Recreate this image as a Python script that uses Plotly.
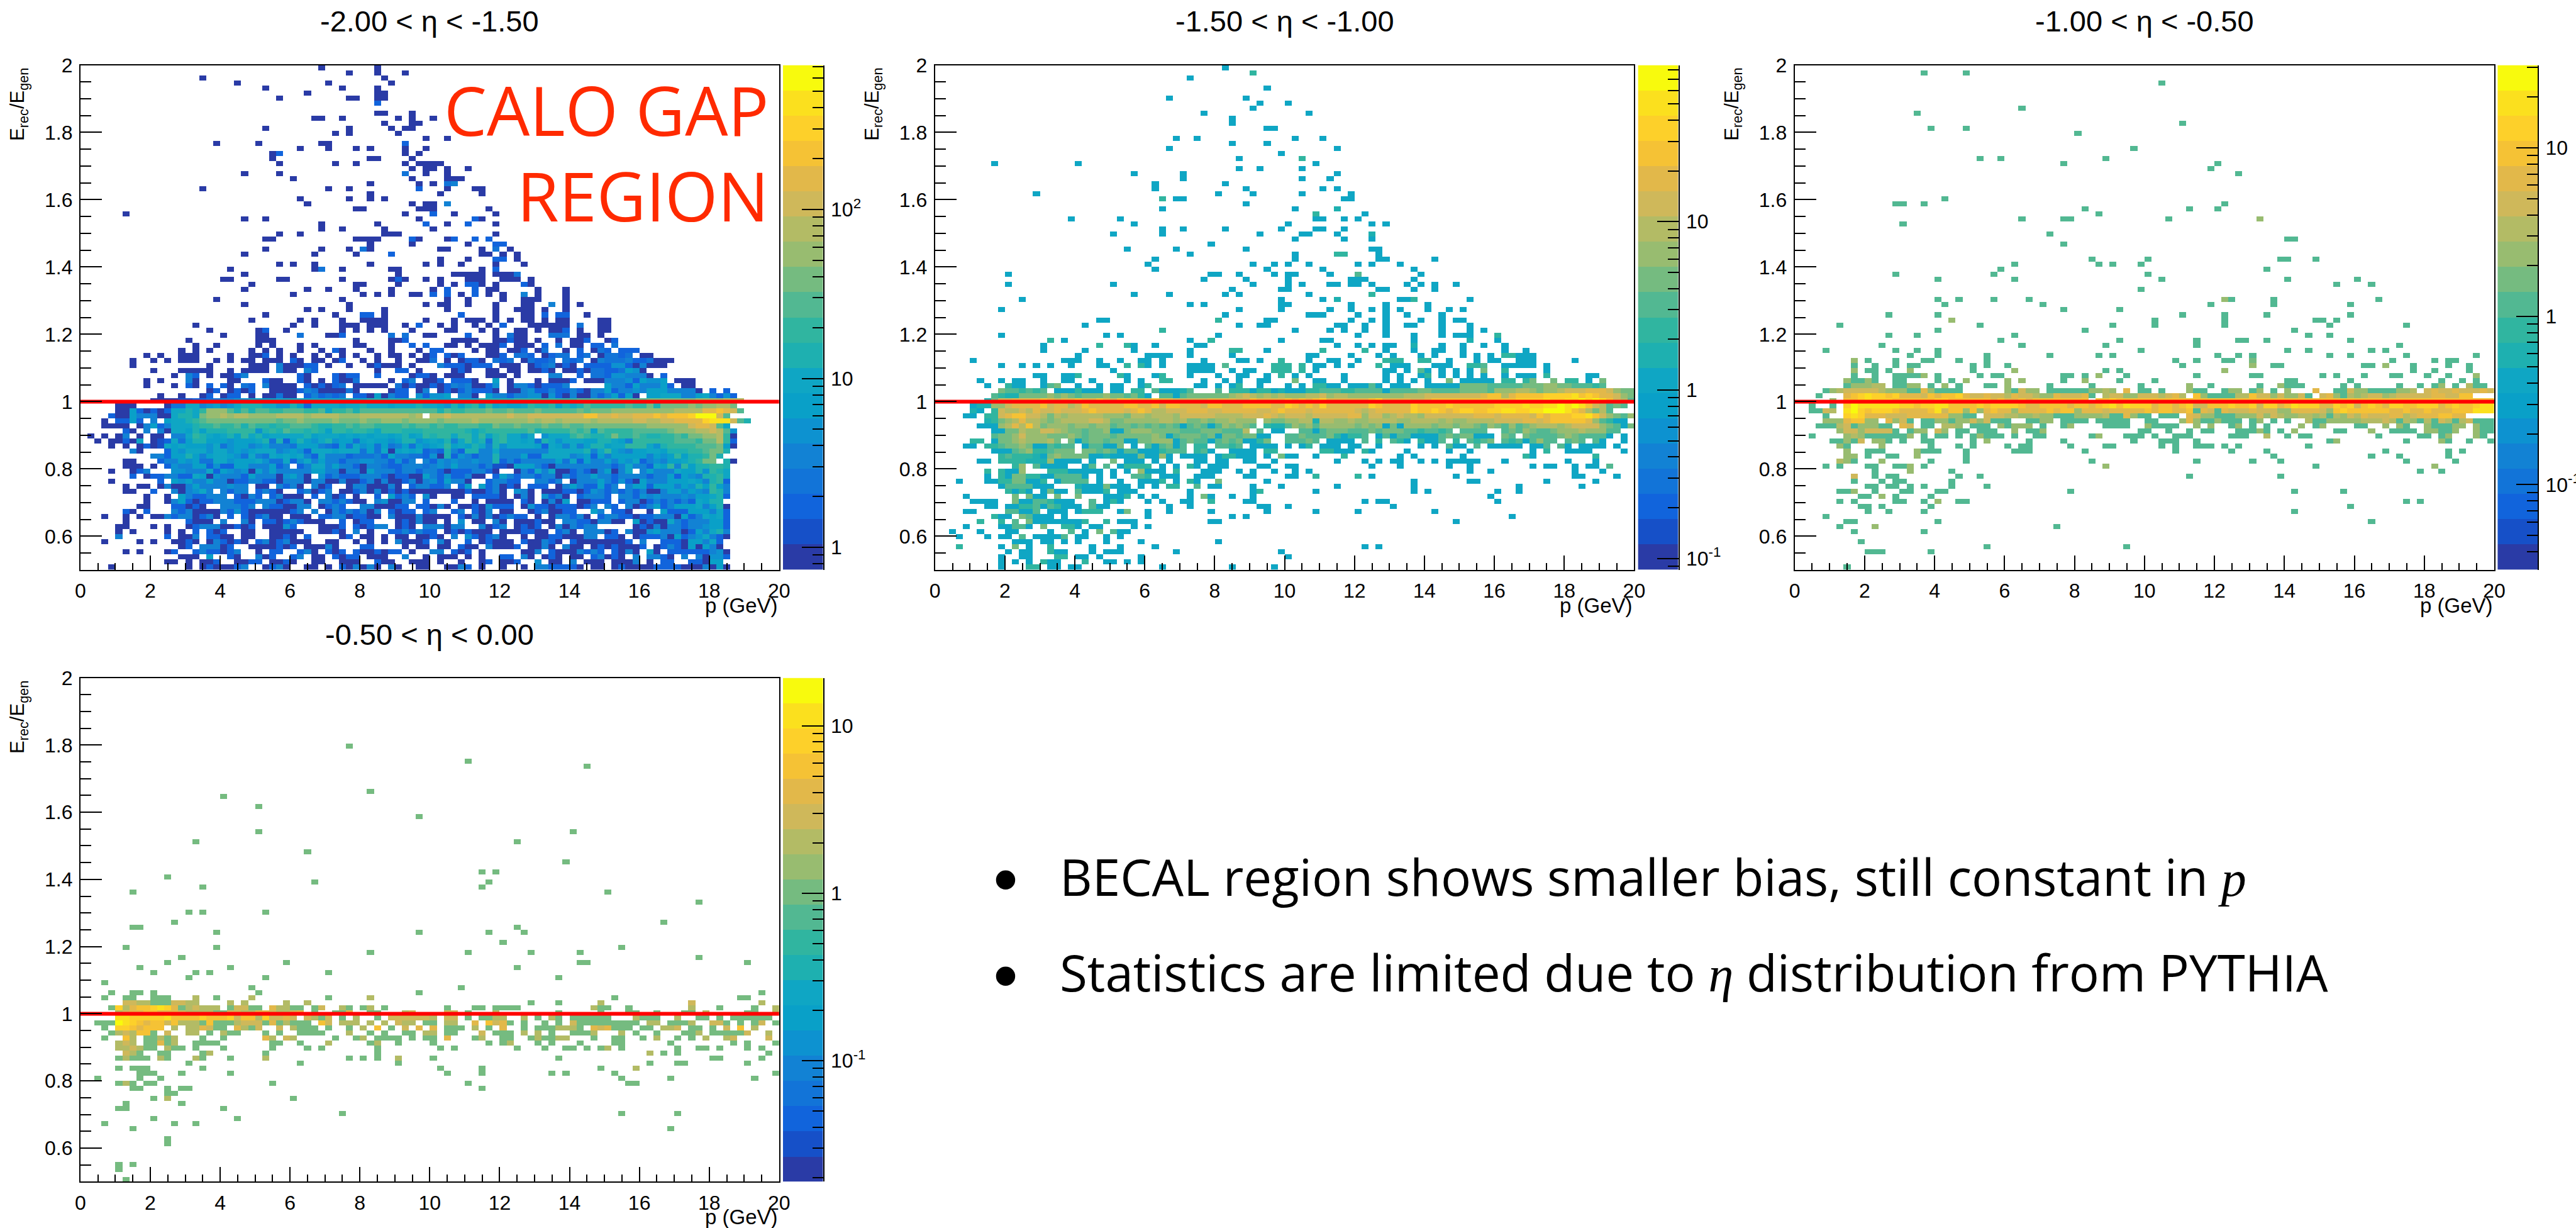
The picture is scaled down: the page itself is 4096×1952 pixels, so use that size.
import math
import plotly.graph_objects as go

W, H = 4096, 1952
SCALE = W / 5105

BAND_COLORS = ["#2a3ba6", "#1650c8", "#1164dc", "#1274d8", "#1282d4", "#0d92d0", "#09a0c8", "#0fa6c4",
               "#1eb0b0", "#30b5a0", "#52b892", "#75bb80", "#98bc70", "#b3bb65", "#cfb85a", "#e2b84a",
               "#f5c235", "#fdd02a", "#fbe01e", "#f8fa0d"]

TITLES = ["-2.00 < \u03b7 < -1.50", "-1.50 < \u03b7 < -1.00", "-1.00 < \u03b7 < -0.50", "-0.50 < \u03b7 < 0.00"]
Z_RANGES = [(0.736, 716.0), (0.0855, 85.0), (0.0312, 31.0), (0.019, 19.3)]
X_TICKS = [0, 2, 4, 6, 8, 10, 12, 14, 16, 18, 20]
Y_TICKS = [0.6, 0.8, 1, 1.2, 1.4, 1.6, 1.8, 2]
Y_TICK_TEXT = ["0.6", "0.8", "1", "1.2", "1.4", "1.6", "1.8", "2"]
CB_DECADES = [(0, 1, 2), (-1, 0, 1), (-1, 0, 1), (-1, 0, 1)]
RATIO_LINE = 1.0

# Tokens: "c" one cell at the panel's usual level, "c-d" a run, "c:levels" cells from column c, "." empty.
P1_ROWS = {
0:"34 42",1:"38 42 46",2:"17 43",3:"22 35 44",4:"26 37 42",5:"32 42 43",6:"28 38 39 42 43",7:"42:2",
9:"42 43 47",10:"33 34 37 45 47 50",11:"43 47 48",12:"26 38 44 46 47",13:"36 38 45",14:"49 52",
15:"19 25 34 35 46:2",16:"31 35 39 41 46 49",17:"27 28:2 46 48",18:"27 41 42 47",19:"28 36 39 46 48-51",
20:"47 49 50 52 55",21:"23 28 46:3 49 52",22:"30 47 52-54",23:"41 48 50 52:3 53:4",24:"17 35 38 48:2 52 56 57",
25:"41 51 57",26:"31 38 41 43",27:"32 47 49 50 52:4",28:"39 40 48-50 58",29:"6 46 50:2 53 59",
30:"23 26 48 56:2 57",31:"34 42 49:2 52 55:2 59",32:"34 37 43 50",33:"28 31 43-45 59",
34:"26 27 39-42 47:2 48 52 53:2 56:2 58:2",35:"41 47 55 59:2 60:2",36:"26 34 38 40:3 41 51 52 57 59:3 61",
37:"23 33 39 44:2 57 58 60 62",38:"51 55 59:2 60:2 62",39:"28 30 33 41 49 51 54 59 63",
40:"21 33 34:3 37 44 45 57 59:2",41:"23 45 53-56 57 59 60 61 62:3",42:"20 21 28 29 37 44 45:2 46 49 51 55 56 57 60 61 62 64",
43:"24 39 40 45 51 53 55:2 56:2 57 59 63:2 64",44:"23 32 35 39 44 50 52:2 56:2 58 59 65 69",
45:"30 40 42 44 47 48 50:2 52:2 54 56:2 58 60 63:4 65 69",46:"19 37 52 55 60 63 64 65 69",
47:"23 38 49 51 52 55 59 63 64 67:4 69 71",48:"32 34 38 43 52 59 62-64 66 69",
49:"26 36 40:2 41:2 43 54:2 59 63 64 66:2 68:2 69:2 72",50:"24 31 33 37 40 41 42 43 49 53 55-57 59 61 63 64 66 68 69 74 75",
51:"16 30 33 37-39 41-43 46 48:2 51 53 56 58 60:2 64-69 71:3 74 75",
52:"18 25 26:2 29 37 39 41 43 47 52 53 57 59 62 63 65 67 68 69:2 71 74 75",
53:"20 25 26 31:3 35 36 37:2 44:3 46:3 49 50 55:2 59 61:3 62 63 67:3 68:3 69:3 71 72 74",
54:"15 25-27 39 44 45 46:2 53-56 59 60 61:2 62 63 65 68 70 71 72:2 75 76:2",
55:"16:0 19 25 27 31 33 39 40 44 47:2 49:2 52 53 55 57 58 59 60:2 62-64 66:2 68:3 70 71 73:2 74:2 76:3",
56:"14 16 18 24 26 28 31 34 36:2 37 41 44 48 50:2 51:2 56 58 59 61 62 63:2 65 66:3 69 71:2 73 74:3 75:2 77:2 78:2 79:2",
57:"9 11 14-16 21 24 25 26:2 28 30 33 35 37 39 42 44 45 47 49 50:2 52:2 53 54:2 58 59 60:2 62:3 63:3 64:2 66 67:2 68:3 69:3 71:2 72:3 74 75:3 76:3 77:2 78:3 80 81",
58:"7 10 12 14-16 19 21 23 24 26-28 30:2 31 33 34 36 37:2 40 42 45 48 49 50:3 52 54 55:2 56:2 57 59:3 60:2 61:3 63 64:3 65:2 66:2 67:3 69:3 70:2 71:3 73 74:4 75:3 76:3 77:3 78:4 79:2 80:2 81:3 82 83 84",
59:"7 18 24-26 28:4 29 30 31 32:2 33:2 35 38 41 42:2 43-45 47 51:4 52:2 53:2 54:2 55 56:2 57:2 58:2 60-62 64 65:2 66:3 67:4 68 69:2 70 72:2 73:2 74:2 75:2 76:5 77:5 78:2 79 80:4 81-83",
60:"10 14-18 21 23-26 28:4 29 30 32:4 33:2 42 45:2 46:2 48 53 54:2 55 58 59 61 62 64 65 66:2 67 69 70 71:2 72 73:3 74:3 75:2 76:2 77:3 78:6 79:5 80",
61:"13 15:4 16:2 18 20 21 22:2 23:4 31:2 32 36:2 37 38:2 39:2 42:2 47 48:2 49:2 50 52-54 58-60 62 67:4 68:4 71:2 73:3 74:3 75:2 76:5 77:5 78:4 79:4 80:4 81 83:2",
62:"9 11 15:4 16 21 22 26:2 27 28 31:2 32 34 36:2 37 38 39:3 44 46:2 47:4 49 50:02.2.0 54:22 56 59:6 61 65 67:000 70:2 72:000 75:44452655 83:6 85:000",
63:"9 13 15:2 16 18:2 20:2 21 23:3 24:2 26:4 27-30 32:2 33 34:2 35 36:2 37:3 39-43 45:3 46 47:2 48 49 50:20243 55:4 56:00 58:25 61:0 62:44 64:2 65:0 66:222 69:4 72:.. 75:644 78:26 80:4 81:446 84:2 86:00",
64:"18 19:2 21 22:2 23 24:2 27-30 31:2 32:4 33:3 34-37 38:3 39 44 45:2 46:2 48 49:4 50:.0 52:202 55:4222 59:0 61:00 63:45224 68:2 69:24 71:200 73:4 74:4 75:62 77:44 79:54 81:666 84:4444 88:0 90:2 92:2",
65:"11 14 17 18:2 20 21:2 22:2 24 26 27 28:3 29 30 32:2 33:4 34:2 35:3 36:2 37:3 39:22 41 42:6 43 44:4 45:22 48:5 49:2 50:5 51:56 54:44 56:0 58:644 61:244 64:55 66:05 68:20 70:40 72:04 74:24 76:62 78:60 81:667 84:77 86:4467 90:42 92:52",
66:"10:0000112233445566 26:66777777777777788888888888 50:7666777888889999 66:99999aaaaaaaaaabbbb 85:bbbccccddd",
67:"5:000 12:0 13:3377456457888775586277776778777677787 50:7658689696766798896878a9999 77:9a99b8bbbbcbccddb",
68:"5:00620202778 16:79ccca8a8aa99aaa99a799a8aaaaaaaaaaa 50:a8a99aaabaabaaabaaaaababbbcccccccccddddffgfea",
69:"4:20064440 12:07887bccdcddccccddddcdddd 37:cccdddddddcd 50:ddeddddddddeddeeeeeeeegg 74:eefeefffgfggghjjjea",
70:"3:0.2262.4 11:.6778 16:9abbbbbbbbbbabbcbbbbcbbbcbbcccbcccc 50:cbccccdcccccccdcddcddddcdddddeeddeeffffhiiiea8",
71:"3:0000.04624 13:7778 17:99a99a8a998 28:99aaa988 36:99a9aa9999a9aa 50:9a99aaa99baabaaabaabaabbbbbbbbbcccccceffea7",
72:"6:20.4.4 12:07768 17:68889999 25:58 27:98a998 33:9866 36:99899 41:87999888 49:9 50:9999987 57:8999999a899 68:99a9a6a 75:9999aaaaabcccddeda5",
73:"1:0 3:0 5:04.0.00.447 16:987678 22:6 23:97867777 31:7867 35:7767 39:6 40:7677 44:6 45:78679 50:899799 56:7968 60:97757 66:577 69:79a9889 76:b99a988 83:99a9bbccd90",
74:"2:0 4:00207.012 13:73688 18:66 20:6 21:5 22:66 24:678382 30:6 31:865 34:7856 37:66 39:3 40:676 43:65 45:68856 50:7684 54:797 57:834 59:8 60:977 63:6 64:7 65:38 67:757 70:776 73:68 75:87 77:64 79:999 82:99 84:9aaa9bbd 92:92",
75:"4:0.0.0201 12:7676 16:6657 20:3 21:5 22:66 24:4 25:56 27:4443 31:666 34:432 37:6 38:3 39:75 41:63 43:6 44:34 46:6 47:3 48:65 50:679676 56:874857 62:7776 66:27 68:647 71:468 74:867 77:7 78:99975 83:8 84:999 87:9aaab6 93:0",
76:"7:40 12:2 13:65777 18:5 19:775 22:65677 27:7 28:45 30:65 32:27 34:776 37:777 40:36 42:37 44:067 47:6 48:72 50:3284288 57:44 59:7 60:4444 64:444 67:77777 72:84 74:79 76:654 79:667 82:7 83:6888 87:99abb8",
77:"9:.9 10:4 11:4 12:2 13:66 15:86 17:4 18:677 21:653 24:743 27:76 29:7 30:674 33:27 35:44 37:42 39:33 41:342 44:64 46:433 49:2 50:5 51:082 54:54 56:24 58:4 59:84 61:446 64:22 66:777 69:745 72:62 74:646 77:66 79:66 81:46 83:5 84:6968 88:8 89:9b 91:8",
78:"6:00 11:2 12:44 14:65 16:633 19:77 21:566 24:6 25:75 27:33 29:7 30:2 31:5 32:74 34:64 36:4 37:244 40:55 42:442 45:5 46:24 48:.4 50:25454 55:4 56:5 57:448 60:2 61:424 64:44 66:446 69:3 70:72 72:6 73:446 76:46 78:57 80:245 83:46 85:678 88:9 89:bb 92:8 93:0",
79:"6:000 10:0 12:25 14:44 16:662 19:522 22:66 24:4446 28:2 29:4 31:24 33:77 35:4 36:644 39:20 41:443 44:22 46:4443 50:45 52:46 54:444 57:24 59:1 60:10 62:66 64:64 66:2 67:0 68:4444 72:4444 76:24 78:744 81:27 83:694 86:9 87:688 90:99 92:8",
80:"4:0 7:024 13:5544 17:4 18:72 20:65 22:4506 26:4 27:64 29:4444 33:66 35:44 37:04 39:4 40:064 43:44 45:24 47:42 49:4 50:420 53:222 56:44 58:20 62:0 63:42 65:7 66:470 68:.02 70:2 71:42 73:04 75:6 76:047 79:.4 81:644 83:4 84:47 86:6 87:6 88:8 89:5 90:98 92:7",
81:"7:2 9:022 12:44 14:22 16:76 18:05 20:44 22:42 24:644 27:40 29:564 32:0.5 35:24 37:222 40:4 41:44 43:2 44:022 47:00 49:6 50:4252 54:24 56:00 59:264 62:244 65:2 66:44 68:04 70:2 71:446 74:44 76:24 78:44 80:42 82:44 84:626 87:548 90:897",
82:"4:0 11:2.65 15:6 16:44 18:644 21:022 24:44 26:220 29:444 32:044 35:00 37:400 40:240 43:40 45:0 46:24 48:04 50:52 52:64 54:40 56:..2 59:44 61:22 63:..44 67:24 69:.04 72:44 74:64 76:252 79:064 82:44 84:66 86:6 87:76 89:489 92:2",
83:"6:0.00 11:04 13:00 15:464 18:4 19:4 20:454 23:4 24:.00.4 29:24 31:0.4 34:02 36:..0 39:44 41:000 44:40 46:.24 49:4 50:224 53:.26 56:.62 59:40 61:20 63:.2 65:22 67:.04 70:642 73:2 74:6 75:24 77:.466 81:2 82:666 85:465 88:8 89:69 91:64",
84:"6:00 10:2 13:404 16:574 19:.42 22:44 24:.24 27:20 29:.. 31:24 33:02 35:4 36:.00 39:24 41:04 43:02 45:02 47:000 50:0000 54:0 55:20 57:0 58:2 59:40 61:.54 64:0.0 67:00 69:220 72:2 73:542 76:42 78:42 80:4 81:00 83:4 84:664 87:654 90:984",
85:"9:0 12:0.64 16:22 18:444 21:.2 23:04 25:2 26:.24 29:000 32:.2 34:.4 36:02 38:.0 40:..2 43:.6 45:24 47:2 48:.5 50:0..00.2222 60:0.04 64:0.522 68:40.2 72:444 75:2.44 79:2 80:5454 84:445 87:46 89:678 92:2",
86:"9:0 12:046 15:2 16:022 19:444 22:222 25:444 28:0 29:24 31:40 33:.44 36:242 39:00 41:.4 43:5 44:00 46:44 48:.2 50:...2.. 56:0.0000 62:.20 65:.04 68:06.0 72:0222 76:.24 78:4 79:402 82:4 83:24 85:242 88:76 90:88",
87:"8:00 13:2 14:202 17:0 20:444 23:2 24:4.4 27:22 29:00 31:44 34:024 37:2 40:44 42:000 45:22 47:.22 50:040.00 56:2 57:052 60:22 62:.05 65:22 67:022 70:20 72:24.4 76:2.4 79:02 81:462 84:4 85:6667 89:468 92:0",
88:"6:20 9:2 13:4240 17:00 19:0 20:4252 24:000 27:000 30:24 32:.4.0 36:424 39:24 40:4 41:04 43:.2 45:0 46:22 48:.2 50:4..24.2 57:04.00 62:..0 65:24 67:00 69:22 71:..64 75:.22 78:0..0.6 84:222 87:666 90:47 92:2",
89:"3:0 6:0 8:0 10:00424 15:4 16:024 19:0 21:2 23:2 24:0240 28:0 30:000 33:.22 36:44 38:022 41:00 43:.4 45:00 47:0 48:40 50:000.2040 58:4 59:0 60:24 62:22 64:.0.0 68:44 70:24 72:0.2 75:44 77:220 80:22 82:444 85:062 88:476 91:72",
90:"6:0 15:2000 20:4..4 24:0.22 28:024 31:2 32:000 35:..2 38:.022 45:020 48:40 50:0.0.5.00 58:.4 60:0.000 65:200 68:.44 71:220 74:44 76:00 78:.60 81:200 84:742 87:44 89:4662",
91:"5:00 10:0 12:0 15:02 17:444 20:00 22:202 25:.000 29:52 34:000 37:2.2 40:0 41:24 43:4. 45:020 48:.4 50:4404 54:4.. 57:40 59:24. 62:0 63:20 65:2.04 69:0 70:42 72:44 79:020 82:40 84:44 86:24 88:4566 92:2",
92:"5:0 7:0 12:0 14:0 15:.2.2 19:02 21:..00 25:..0000 31:0 32:..00 36:20 38:.4. 41:0 43:.2 45:2 46:424 49:2 50:2.02 54:0 55:2000 59:.000 63:22 65:00 67:.2 69:40 71:.44 74:402 77:.40 80:0 81:564 84:44 86:02 88:6478 92:4",
93:"5:4 12:2 14:004 17:.22 20:00 22:.0 24:0 25:..0 28:020 31:.2 37:02 39:.0 41:0 42:.0 44:.0 45:0 46:0 47:.00 50:20.4 54:.5 56:20 58:24 60:0..0 64:.0 66:0 67:2200 71:0 72:44.2 76:20 78:.0 80:222 83:40 85:62 87:45 89:742 92:0",
94:"3:0 8:0 10:0 13:002 16:0.0 19:42 21:02 23:0 24:.24 27:02 29:40 31:00 35:00 37:..0 40:.0 42:.0 44:.4 46:00 48:02 50:.40 53:..2 56:.0 58:200 61:0.2 64:00 66:420 69:.20 72:00 74:00 76:002 79:.4 83:222 86:0 87:664 90:72",
95:"14:02.4 18:44 20:02 24:0000 28:20 30:2.0 33:00 35:40 40:22 46:0 47:.00 50:.00 53:.2 55:00 57:.4 59:000 62:2.0 65:04 67:0.40 71:0.0 74:202 77:000 80:2.0 83:24 85:20 87:6066 90:40",
96:"6:0 8:0 12:02 14:..2 17:4 18:22 20:0 21:24 23:..0 26:.22 29:..2 32:40 34:.2 36:02 38:.20 41:0 42:20 44:22 46:.0 50:44.2 54:02 56:.0 63:00 65:4.2 68:000 71:424 74:2.2 77:04 79:0.6 82:0.2 85:2222 89:245 92:0",
97:"14:000 17:.6 21:20 23:..4 26:02 28:..2 31:4.00 35:.20 38:22 40:.000 44:..4 47:..0 50:.000.0 56:.0 60:22 62:.40 65:.0 67:20 70:00 73:24 75:0 76:20 78:.4 80:.4 82:42 84:0.4 87:.4 89:0 90:552",
98:"12:00 15:0 17:00 19:2..00 24:22.00 29:20 31:..00 35:..000 40:..2 43:00 45:..000 50:.0..0 55:..0 58:2.00 62:2 65:5.00 69:.4.0 73:00 75:.0 77:00 79:4.0 82:.22 85:..2 88:2 89:0 90:66",
99:"4:0 15:0 17:02 19:0 20:00 22:24 24:..0 27:24 29:0 30:..0 33:0 34:.0 36:.20 39:40 41:40 43:.4 45:0 46:..0 49:0 50:..0 53:0 54:4 55:2 56:.0 58:..0 63:0 64:.44 67:222 70:2 71:0 73:00 75:.0 77:2 78:0000 82:2222 86:00 88:0 89:40 91:60",
}

P2_ROWS = {
0:"41",1:"45:9",2:"36",4:"47",6:"33 44",7:"46 50",8:"45",9:"38 53",10:"42",11:"42",12:"47 48",14:"34 37 51 55",
15:"42 47",16:"33 57",17:"49",18:"43 52:9",19:"8 20 54",20:"43 46 52",21:"28 35 57",22:"35 52 56",23:"31 41",
24:"31 44 55 57",25:"14 40 45 52 59",26:"32:9 34 35 58 59",27:"44",28:"32 51 57:8",29:"54:9 61",30:"19 26 54 55 58 60",
31:"28 50 62 64",32:"32 35 41 49 54 55 58",33:"25 32 46 52 53 57 62:8",34:"51 58 62",35:"39",36:"27 34 44 62 63",
37:"36 51 57:9 58:9 63",38:"31 51 63 64 71",39:"30 45 48 50 53 60 62 66",40:"31 47 55 68",
41:"10 39 40 43 48 50 51 56 60:a 69",42:"38 44 50 59-61 68",43:"10 25 45 50 52 56 57 59 60 62 67 69 71 74",
44:"42 49 50 63 64 68 71",45:"28 33 41 43 53 62:9",46:"12 49 55 57:8 66 67 68:9 76",47:"36 38 49 50 59 64 70",
48:"9 43 49 56 59 62 64 66 70 73 75",49:"41 53-55 60 64 67 72",50:"23 24 40:9 47 48 59 62 64 69 72 74 75",
51:"21 43 46 47 57 58 61 64 67 68 72 76",52:"32:9 51 56 58 61 64 72 76 78",53:"9 24 26 40 60 64 68 72 74 75 76 80:9",
54:"16:9 18 36 39:9 49 55 56 68 76:8 80",55:"15 23:9 27:9 28 31 37 38 57 60 62 64 65 68:8 72 75 78 81",
56:"15 21 28 36 42:9 43:9 47 55:9 61:9 64 68 71 72 75 81 84",57:"20 30-33 36 42 53 54 59 63 65 69 71 75 77 79 81:9 82:9 83-85",
58:"5 18-20 23 26 29 30 32 38 43 44 46 49:9 53 56 57 60 64:9 65:9 66:9 69:9 70:9 73 77 79 80 83-85 91",
59:"9 12 14 16 19 23 24 27:9 29:9 30 32 36-39 41:a 48:9 49:9 50:9 52:9 54 55 57 59 63:9 65-67 71 72 73 76:9 77:9 78:a 81-85 87",
60:"25 36-39 42 44 45 48:9 49:9 50:9 52:9 54 64 65 67 69:a 70 72 74 76 78:b 81:9 87",
61:"14 15 18 19 20:9 26:9 27 31 32:9 36 40 43 44 47 49:9 51 53 58 64 66 69 70:9 72 74 76 78 81 83-85 87:9 93 94",
62:"6 9 11 12 15 18 19 22 27 29 32:99 38 41 43 46 47 51:b 54 55 58 64 66 68 70 73:b 75-79 81:9 82:9 84:9 85:b 88:b 90:9 91:9 93 95:b",
63:"7 10:9 11 12 15 16:a 17:b 20 23 25 26 29 30:9 37 38 40 42 43:9 46 50 52 54:9 55:9 56 57 59-61 62:a 63 65-67 70-74 75:bbbb 79:a 80:aaaa 84:bbbccbbaaa9a",
64:"9:baa9a9a 17:7779777 25:77 28:99 31:a7778a 40:a 42:9997997 48:78 50:777 53:99aaa99aa 62:aa7aaaabbaaaab 75:bbbbacccddcbccdeeefffecbba",
65:"8:a988bbbbcbcbabbbc 25:bbab97 32:aa7abbbbbbcdedcdcd 50:cccddecddccccccccddde 71:eeee 75:eeefggdfgggghhhhighgffecbb",
66:"7:8beeffffgfeffgffgfeggfffgffeeeeeffffeegfffffgg 50:gfgfghffffffghffffeefgggggg 77:gggggghhhhihhiijijigedabb",
67:"5:788cceffffgeffdegfffffggffgeggfffeggfffggggff 48:ffhgfgfhffffffhgffffhgggghgg 76:gggghhhhihhiijijigedaba",
68:"5:87.9eddedfeefeeefgffffefgfddeeefffeefffffee 48:fgfffeffffffedefffffhgghgfghhgghhiihhiijjjigfdbda",
69:"4:77.99efggeedbdcdddddcccbddcdddceeeeedde 41:dddeeefedd 50:eeedeeeeeffceecdeddceeeeee 76:efffeffffegfggghhigecbac",
70:"7:89bcdfddcbcddddeedbbcccc 31:cddcdbbcbccdccc 47:cbbcc 52:dd8ddccdccddddccddddcdccddddeeeeffefgggggfca977",
71:"6:777cdfdgdbcccbccbcca 26:bbabababa7abacb 39:7acbcba 47:988acbcacccc 59:cbcbc7b7ccccbccbccbacbacabcdddcdeeeecba7b7",
72:"8:77bbdcceedcbbabbc 25:77bcccbbbbaaabbba 42:aad.a.77 50:..aa7 55:abbbaaabab 65:bbaa9aa9a. 75:aaaa..abacbaabcccdcccaa",
73:"8:abbcecccbbbcbabbbab 27:bbbbcb7abbbab7bbabb77 48:..aabaaab97 59:99a.7a7aa7777 72:ab 74:abb777.ba.baaaabcbaaaa7.7",
74:"5:99 8:7bbcdcccdb.b7abba 25:bb77bbccc7abaa7 40:abab7 45:79b..aaaba.7777 61:a.9.a97 68:.977. 72:a.9.a9ab.a9a7acaa.aba.a7..7",
75:"4:77.99abbcb77a9aa.7aa7 25:7b.7.a7ab 34:7a.99.aa9a 44:.7777.7.7 52:79.777.77 62:.7.....7.7.a79 75:7.a.77777.77a.a7.7777.7",
76:"8:777abc99abbb.bbaba7aa7777 32:9aaa.9a7..7777.99 52:.. 55:99777.97 67:7 73:7 76:7 85:7 87:9 90:7777 98:7",
77:"9:9a9998 15:7bcbbbb77877 27:77b77c7.7 36:777.799 43:777.7.b77 53:.7 58:9 66:7 68:7 75:7 84:9 85:7 94:9",
78:"6:77 9:9999888c77 19:7 20:7 22:7 25:b 27:777 31:7 33:7 37:77 40:77 44:77 48:7 57 61 63 65 66 69 71 73-77 81 90 94",
79:"11:9c 14:a7777 21 22:a 24:a 26 27:9999 32 34 36:9 37 39-41 46 47 50 51 62 66 73 76 85 87 88 91 93 94 96:a",
80:"7:9 9:977c 16:999 19-21 22 23 25 27 29:c 30-32 34:9 38-40 43 45 48 51 53 76 79 91 95",
81:"7 9:9 10 11:bb 13:99 15:77 17:aaa 20:a 21 23 25 28:aa 30:9 32-34 37-39 44 45 50 51 54:9 60:9 62 74 91 92 97",
82:"3 7 8 9:99 11:bb 13 14 15:9 17 18:aa 20:aa 23 26 29-31 32:9 34 36:9 37 40:b 47 68 76 77 87 94",
83:"9 10:aaaa 14-16 20:8 21-23 24:b 25-27 29 31 33:99 37:a 39 40 45 49 57 68 83 92",
84:"10:9 11 12:9 13 15 16:b 17 18 20:a 21-23 24:9 26-28 36 45 46:9 54 68 70 80 83",
85:"4 11:b 13:b 14 15 17:b 20:b 24-26 27:9 29 31 36 38:b 39 42 45 79",
86:"5-8 11:b 12 13 14:aa9 17 18 19 22:a 24 25:9 26 30 32 35 36 39:9 44 45 61 63 64 80",
87:"7 8 10 11 12:99 14:a 15 16:a 17:9 18 19 20 22:a 23 24 33 36 46 47 50 65",
88:"4 5 10:aa 12 13 14:a 16-18 20 21:999 26 27:b 30 33 39 47 54 60 71",
89:"8:9 9 10 12:b 13:a 14-16 18 30 42 44 82",
90:"6:9 9:9 11:a 13:b 14 15-20 21:9 24:9 26-28 39 40 74",
91:"4 9 10 11:aa 13 15:b 18:99 20 22 23 28 30",
92:"2 6 10 11 16 19:a 21 23:b 25:a 26 27",
93:"3 7 9 10 12:a 14-17 18:a 20 21 24 26",
94:"11-13 15 16 18 20 24 29 40",
95:"3:9 9 11:b 13 16:9 22 26 31 61 63",
96:"10 12 13 16:9 17 18 22 24-26 34 49",
97:"9 12 13 17:99 20 21 23 29 50",
98:"9 11 13 15:9 16 17 21:9 24 25 27 29",
99:"9 13:99 16 17 19 20 32 42 48",
}

P3_ROWS = {
1:"18 24",3:"52",8:"32",9:"17",11:"55",12:"19 24",13:"40",16:"48",18:"26 29 44",19:"38 60",20:"59",21:"63",26:"21",
27:"14 15 18 61",28:"41 56 60",29:"43",30:"32 38 39 53 66:c",31:"15",33:"36",34:"70 71",35:"38",38:"42 50 69 70 74",
39:"31 43 45 49",40:"29 67",41:"14 28 50",42:"20 31 52 70 80",43:"77 82",44:"49",46:"20 23 28 33 61:c 62 68 83",
47:"21 35 59 68 79",48:"38 46",49:"13 20 55 61 67 79",50:"22:c 51 61 74 75 77",51:"6 26 45 51 61 76 87",52:"20 41 71",
53:"13 17 31 73 76",54:"29 46 57 63 64 67 79",55:"12 32 44 57 86",56:"4 14 17 20 49 70 73 82 84",
57:"16 20 27 36 43 45 60 63 65 76 79 87 97",58:"8:c 10 14 18 19 23 27 54 57 61 62 65:b 85 91 93 94",
59:"8 11 14 16 17 25 27 30 55 65:c 68 69 81 82 84:c 88 93 96",60:"8:c 10 11 13 16:c 25 31:c 44 46 61:c 88 91 96",
61:"8 11 14-17 18:c 20 26 28 29 38 39 41 43:c 47 57 65 66 75 77 81 85 86 90 93 97:c",
62:"7:c 8 9 10:c 11 14 15 20 22 24:c 30:c 32:c 38 41:c 46 51 70 71 79 92 95 97",
63:"7 8:cc 10:cdd 14 15 16:cc 19 21:c 23 27 28 30:c 36 42 49 56:c 59 66 69:c 70-72 78 80 86 89 91 92:c 94 96:d 97 98",
64:"4:acdeeeeedcccaafcaaaa 30:ca 32:ecc 36:aa 38:aaaa 42:cc 44:dc 47:f 49:aa 52 56:c 57:aa 61 62:cc 65 66:c 68 70:c 74:f 77:aa 79:ecc 82:aaaa 86:cc 88:d 90:efeefeeefe",
65:"3 7:fghihhghfffegfgghfee 27:feedfeedcc 37:feeefa.deeccee 51:edefd.gcaaaaddgeecec 71:cea.efcadcdeecdeeeeeffeegg",
66:"5:c.gghihhhgggggghhggggggfgffgfgggggggg 43:gghggggggggggggggggggggggggggggggggggggggggggggggggggggggg",
67:"2:a..a.hjiiiiiihhghhiigggghghhhhgffggggfggfghi 46:gihhhfggfghee 59:gggh 63:gghehhfgihhhffhgheghgfhhgghhhfghgghiii",
68:"2:aaed.ijhghhhgffffgieggcgcfgffcffffgfggcfffef 46:ffffgfggffga 58:feafeeefeeecc 71:ffffecghggggggffgffgfffggg 97:iii",
69:"4:a..hihfffeeefffffff 22:ccaa.eeeddccdcca 38:aaccccda 46:afcaa.. 52:aaa.fecca 60:aaaccc 66:ecedcc 72:ddcdadcedfe 83:eeffdefffggff",
70:"4:cccfggcc.fcea.aaccaccece 26:..aaa..aacc 37:.aaaa 42:.aaaaa..aa...cfcaaca 62:aa.ac.a.a..daac 76:.ccccdddedadcadaedadeaaa",
71:"3:aaadeaccc 12:aa.fe.aa.ddc 25:aaa.caccc 34:.a 38:ac 44:aaaa 50:caa 53:aa 57:c 59:c 62:ac.a 67:a 72:c 74:ac 80:aa 84:c 86:ca 90:caaa 94:cc 97:caa",
72:"6:ceecee 12:eea.acc 20:ec 23:aa 26:aaa 31:c 33:aac 49:aa 53 56 58 59 63-65 66:c 67 69 71:c 77 78 82:c 85-88 90:cc 92:aac 97:caa",
73:"2 7:cdcaaaaaa 16:c 18 20 21 23 25 26:c 27-29 31 34 35 42 43:c 47-49 51 54-56 62-64 67:d 70 72 73 83 89 90 92 93:c 97:c 98",
74:"5 6 7:cae.cca 15 18 19 25 27:c 33 38 48 52-54 57 76 77:c 87 92:c 93 96 99",
75:"6:ca 12:c 19 23 25 30 32 33 39 44 45 52 54 57-59 61 63 73",
76:"7:c 10-12 17:c 18-20 24 31-33 41 54 62 67 84 93 95",
77:"7:cc 10 13 14 17:c 24 68 82 86 93",
78:"6:dca 12:c 19 24 42 57 65 69 87 94",
79:"4 6 10 11 14 15 16:c 18 44:c 74 91:c",
80:"11 16:c 22 89 92",
81:"8:e 11 13 14 23 26 56 69",
82:"8 12 14 15 22",
83:"10 11 13 14 16 18 22 27",
84:"6 7 8:c 11 15 16 20 21 39 71 78",
85:"9 10 12:c 14 19",
86:"6 8 14 15 18 20:c 23 24 87 89",
87:"9 10 12 19 79",
88:"10 13 18 71",
89:"4",
90:"7 8 20 82",
91:"6 11:c 37",
92:"8 18",
94:"9",
95:"27 47",
96:"10-12 19",
99:"7",
}

P4_ROWS = {
13:"38",16:"55",17:"72",22:"41",23:"20",25:"25",27:"48",30:"25 70",32:"16 62",34:"32",36:"69",38:"57 59",39:"12",
40:"33 58",41:"17 57",42:"7 75",44:"88",46:"15 17 26",48:"13 83",49:"7 8 62",50:"19 48 58 63",52:"60",53:"6 19 77",
54:"41 55 64 71",55:"14 88",56:"12 29 71 72 95",57:"8 21 62",58:"10 16 18 35",59:"15 26 68",60:"3",61:"24 54",
62:"4 7 8 10 25 48 97",63:"3 6 7 10-12 16:d 19 24:d 35 41:d 76 94 95",
64:"6:eedd 10-12 13:ee 15:dd 21:d 23:d 29:d 32:d 64 68 74:d 87:e 97:d",
65:"4 5:hdfgghih 13:fbdedd 19:d 21 22:ee 24 25 27:f 28:dd 30 31 33 34:e 37:d 38 40 41:d 43 52 56 57 59-62 73:d 74 75 78 87:d 91 96 99:d",
66:"5:deffggfffeddddbbeeddffeddef 32:.b 36:b 37:bf 41:bb 46:de 52:ee 55:b 59:d 68 74:b 78:bb 82:b 86:bb 89:d 95:bb 99:d",
67:"5:iihhhhhigggghgggheggdheefe 32:edbe.b.d..b.eeeeeed.ee.b.bbdd..d.b.db.bbbbbb...dbbb..d..bb.b.bbbbbb",
68:"2:bbbjihgfggegdddb 18:gbbbdeeebfbdbbb 33:.ge.ddd.d.d.ee 46:dd.bb.d 52:dd..f.gef 60:.b.b..b.b.eb.e 72:bbbbbb 78:bb.dd.bbbd..ee 92:b.b.be.be",
69:"3:b.hhgfggg.d 14:.ddfebb.fdb 24:.e..e.dbbb 34:.b..b.d.g.b.e.f.f.bbb.d.b.f..b.bbbddd 70:.b.fefbbb.bb.dde.bb.b.e.g.d",
70:"4:bdedggb.e 15:dd.b.dd 21:bb 26:b 28:b 31:bbbb 38:d 41:b 43:b 46:bb 49:dd 52:bb 57:e 59:bbb 63:d 65:d 67:b 70:bbbd 77:d 79:b 82:b 86:bbd 90:bbbbbe 98:d",
71:"3 6:gd.bbdbd 17 20 26:fd 29:ed 36 39:bd 42:bbbb 47 49:bb 52:f 56:bd 60:bb 64:b 65:d 66:bb 68:dd 73:b 76:bb 80:b 82:d 85:b 87 89:d 92:de 98:e",
72:"5:ded.bbfbd 16-19 27 28 31 35:d 41 42:d 45 50 58 60 61:d 65 67 71 76 77 84 93 95 99",
73:"5:ddedbb 12:d 13 14 16 20 27 32 34 42 51 53 62 66 69 70 72 74 75:d 77 85 88 89 91 95 97",
74:"6:edb 11 12 17 18:d 26 42 81:d 83 85 98",
75:"5:bdbbb 11:db 16:db 21 26:d 38 40 42 45:d 50 68 90 91 97",
76:"15 31 45 81 85 86 95",
77:"5 7-9 17 51 57 74 79:d",
78:"8-10 14 21 52 57 67 69 76 99",
79:"2 8 11 77 84 96",
80:"5:bdb 9 10 27 55 78 79",
81:"7 8 12 14 15 57",
82:"12 13",
83:"10 12:d 30",
84:"6 14",
85:"5 6 20",
86:"37 77 85",
87:"10 22",
88:"3 13 16",
89:"7 84",
91:"12",
92:"12",
96:"5 7",
97:"5",
99:"6",
}


def decode(rows, usual):
    grid = [[None] * 100 for _ in range(100)]
    for r, spec in rows.items():
        row = grid[99 - r]
        for tok in spec.split():
            if ":" in tok:
                start, levels = tok.split(":")
                for i, ch in enumerate(levels):
                    c = int(start) + i
                    if ch != "." and c < 100:
                        row[c] = int(ch, 36)
            elif "-" in tok:
                a, b = tok.split("-")
                for c in range(int(a), int(b) + 1):
                    row[c] = usual
            else:
                row[int(tok)] = usual
    return grid


PANEL_DATA = [(P1_ROWS, 0), (P2_ROWS, 7), (P3_ROWS, 10), (P4_ROWS, 11)]
COLORSCALE = []
for i, col in enumerate(BAND_COLORS):
    COLORSCALE += [[i / 20, col], [(i + 1) / 20, col]]

# plot rectangles in reference pixels: left, right, top, bottom, bar-left, bar-right
GEOM = [(159.4, 1544, 129, 1129, 1551.5, 1631),
        (1853, 3238.5, 129, 1129, 3246, 3326),
        (3556.6, 4943, 129, 1129, 4949.5, 5029),
        (159.4, 1544, 1343, 2341, 1551.5, 1631)]
TITLE_Y = [42, 42, 42, 1257]

fig = go.Figure()
layout = {}
ann = []
px = lambda v: v * SCALE / W
py = lambda v: 1 - v * SCALE / H
BLACK = "#000000"
FONT = "Liberation Sans"

for k, ((rows, usual), (zlo, zhi), g) in enumerate(zip(PANEL_DATA, Z_RANGES, GEOM)):
    l0, l1 = math.log10(zlo), math.log10(zhi)
    levels = decode(rows, usual)
    z = [[None if v is None else l0 + (v + 0.5) * (l1 - l0) / 20 for v in row] for row in levels]
    n = 2 * k + 1
    xa, ya = "x" if n == 1 else f"x{n}", "y" if n == 1 else f"y{n}"
    xb, yb = f"x{n + 1}", f"y{n + 1}"
    fig.add_trace(go.Heatmap(z=z, x0=0.1, dx=0.2, y0=0.5075, dy=0.015, zmin=l0, zmax=l1, xaxis=xa, yaxis=ya,
                             colorscale=COLORSCALE, showscale=False, hoverongaps=False))
    fig.add_trace(go.Scatter(x=[0, 20], y=[RATIO_LINE, RATIO_LINE], mode="lines", xaxis=xa, yaxis=ya,
                             line=dict(color="#ff0000", width=6), showlegend=False))
    edges = [l0 + i * (l1 - l0) / 20 for i in range(21)]
    fig.add_trace(go.Heatmap(z=[[e + (l1 - l0) / 40] for e in edges[:-1]], x=[0, 1], y=edges, zmin=l0, zmax=l1,
                             xaxis=xb, yaxis=yb, colorscale=COLORSCALE, showscale=False, hoverinfo="skip"))
    key_x = "xaxis" if n == 1 else f"xaxis{n}"
    key_y = "yaxis" if n == 1 else f"yaxis{n}"
    layout[key_x] = dict(domain=[px(g[0]), px(g[1])], anchor=ya, range=[0, 20], tickvals=X_TICKS,
                         ticktext=[str(t) for t in X_TICKS], ticks="inside", ticklen=23, tickwidth=2, tickcolor=BLACK,
                         showline=True, linecolor=BLACK, linewidth=2, mirror=True, showgrid=False, zeroline=False, automargin=False,
                         ticklabelstandoff=4, tickfont=dict(family=FONT, size=32, color=BLACK),
                         minor=dict(dtick=0.5, tick0=0, ticks="inside", ticklen=11, tickwidth=2, tickcolor=BLACK, showgrid=False))
    layout[key_y] = dict(domain=[py(g[3]), py(g[2])], anchor=xa, range=[0.5, 2], tickvals=Y_TICKS, ticktext=Y_TICK_TEXT,
                         ticks="inside", ticklen=34, tickwidth=2, tickcolor=BLACK, showline=True, linecolor=BLACK, linewidth=2,
                         mirror=True, showgrid=False, zeroline=False, automargin=False, ticklabelstandoff=4,
                         tickfont=dict(family=FONT, size=32, color=BLACK),
                         minor=dict(dtick=0.05, tick0=0, ticks="inside", ticklen=17, tickwidth=2, tickcolor=BLACK, showgrid=False))
    layout[f"xaxis{n + 1}"] = dict(domain=[px(g[4]), px(g[5])], anchor=yb, range=[0, 1], visible=False)
    decs = CB_DECADES[k]
    minors = [math.log10(m * 10 ** d) for d in range(decs[0] - 1, decs[-1] + 1) for m in range(1, 10)
              if l0 < math.log10(m * 10 ** d) < l1]
    labels = ["1" if d == 0 else "10" if d == 1 else f"10<sup>{d}</sup>" for d in decs]
    layout[f"yaxis{n + 1}"] = dict(domain=[py(g[3]), py(g[2])], anchor=xb, side="right", range=[l0, l1],
                                   tickvals=list(decs), ticktext=labels, ticks="inside", ticklen=34, tickwidth=2, tickcolor=BLACK,
                                   showline=True, linecolor=BLACK, linewidth=2, showgrid=False, zeroline=False, automargin=False,
                                   tickfont=dict(family=FONT, size=32, color=BLACK), ticklabelstandoff=4,
                                   minor=dict(tickvals=minors, ticks="inside", ticklen=17, tickwidth=2, tickcolor=BLACK, showgrid=False))
    ann.append(dict(text=TITLES[k], x=px((g[0] + g[1]) / 2), y=py(TITLE_Y[k]), xref="paper", yref="paper", showarrow=False,
                    xanchor="center", yanchor="middle", font=dict(family=FONT, size=47, color=BLACK)))
    ann.append(dict(text="p (GeV)", x=px(g[1]), y=py(g[3] + 70), xref="paper", yref="paper", showarrow=False,
                    xanchor="right", yanchor="middle", font=dict(family=FONT, size=33, color=BLACK)))
    ann.append(dict(text="E<sub>rec</sub>/E<sub>gen</sub>", x=px(g[0] - 122), y=py(g[2] + 3), xref="paper", yref="paper",
                    showarrow=False, textangle=-90, xanchor="center", yanchor="top", font=dict(family=FONT, size=31, color=BLACK)))

RED_TEXT = [("CALO GAP", 217), ("REGION", 387)]
for text, y in RED_TEXT:
    ann.append(dict(text=text, x=px(1527), y=py(y), xref="paper", yref="paper", showarrow=False, xanchor="right", yanchor="middle",
                    font=dict(family="Open Sans", size=108, color="#ff2a00")))

MATH = '<span style="font-family:Liberation Serif;font-style:italic">%s</span>'
BULLETS = [("BECAL region shows smaller bias, still constant in " + MATH % "p", 1735, 1747),
           ("Statistics are limited due to " + MATH % "\u03b7" + " distribution from PYTHIA", 1925, 1938)]
for text, y_text, y_dot in BULLETS:
    ann.append(dict(text="\u2022", x=px(1993), y=py(y_dot), xref="paper", yref="paper", showarrow=False, xanchor="center", yanchor="middle",
                    font=dict(family="DejaVu Sans", size=105, color=BLACK)))
    ann.append(dict(text=text, x=px(2098), y=py(y_text), xref="paper", yref="paper", showarrow=False, xanchor="left", yanchor="middle",
                    font=dict(family="Open Sans", size=80, color=BLACK)))

fig.update_layout(width=W, height=H, autosize=False, margin=dict(l=0, r=0, t=0, b=0, pad=0, autoexpand=False), paper_bgcolor="#ffffff",
                  plot_bgcolor="#ffffff", showlegend=False, annotations=ann, **layout)
fig.write_html("out.html", config={"displayModeBar": False}, post_script="document.body.style.margin='0';")
